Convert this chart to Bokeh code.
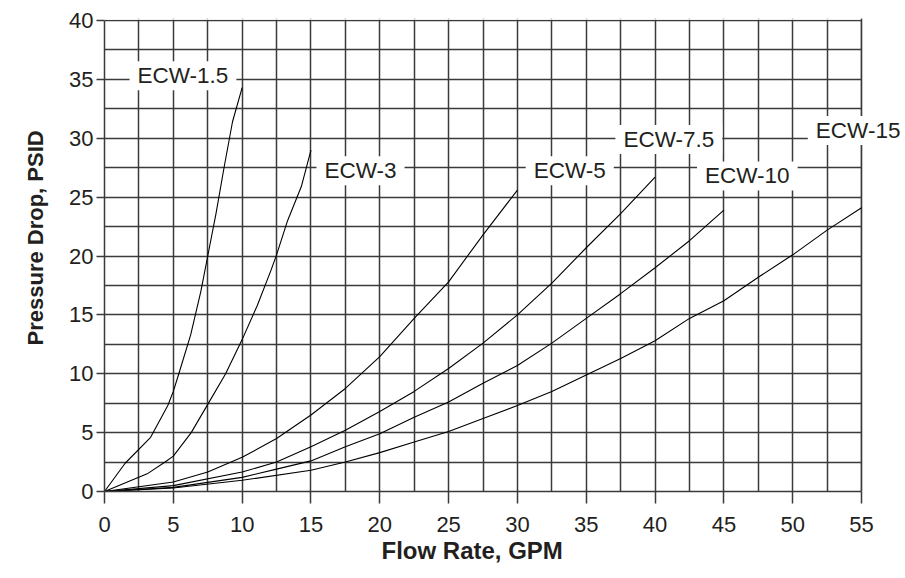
from bokeh.plotting import figure
from bokeh.models import Range1d, FixedTicker, Label, BoxAnnotation, Span, Title
from bokeh.embed import file_html
from bokeh.resources import INLINE

# ---- data ----
ecw15_x = [0, 1.5, 3.35, 4.6, 5.0, 5.4, 6.26, 7.0, 7.5, 8.1, 8.7, 9.3, 10.0]
ecw15_y = [0, 2.4, 4.6, 7.3, 8.5, 10.0, 13.3, 17.0, 20.0, 23.6, 27.6, 31.4, 34.3]

ecw3_x = [0, 3.1, 4.4, 5.0, 6.3, 7.5, 8.8, 10.0, 11.1, 12.1, 12.5, 13.3, 14.3, 15.0]
ecw3_y = [0, 1.5, 2.5, 3.0, 5.0, 7.4, 10.0, 12.9, 15.8, 18.8, 20.1, 23.0, 25.9, 29.0]

ecw5_x = [0, 5, 7.5, 10, 12.5, 15, 17.5, 20, 22.5, 25, 27.5, 30]
ecw5_y = [0, 0.8, 1.65, 2.9, 4.5, 6.5, 8.75, 11.45, 14.7, 17.8, 21.8, 25.6]

ecw75_x = [0, 5, 10, 12.5, 15, 17.5, 20, 22.5, 25, 27.5, 30, 32.5, 35, 37.5, 40]
ecw75_y = [0, 0.5, 1.65, 2.5, 3.8, 5.2, 6.8, 8.5, 10.45, 12.6, 15.0, 17.7, 20.7, 23.6, 26.7]

ecw10_x = [0, 5, 10, 12.5, 15, 17.5, 20, 22.5, 25, 27.5, 30, 32.5, 35, 37.5, 40, 42.5, 45]
ecw10_y = [0, 0.35, 1.2, 1.9, 2.6, 3.8, 4.9, 6.3, 7.6, 9.2, 10.7, 12.6, 14.7, 16.8, 19.0, 21.3, 23.9]

ecw15b_x = [0, 5, 10, 15, 17.5, 20, 22.5, 25, 27.5, 30, 32.5, 35, 37.5, 40, 42.5, 45, 47.5, 50, 52.5, 55]
ecw15b_y = [0, 0.3, 0.95, 1.8, 2.5, 3.3, 4.2, 5.1, 6.2, 7.3, 8.5, 9.9, 11.3, 12.8, 14.7, 16.2, 18.2, 20.1, 22.2, 24.1]

series_names = ["ECW-1.5", "ECW-3", "ECW-5", "ECW-7.5", "ECW-10", "ECW-15"]
series_x = [ecw15_x, ecw3_x, ecw5_x, ecw75_x, ecw10_x, ecw15b_x]
series_y = [ecw15_y, ecw3_y, ecw5_y, ecw75_y, ecw10_y, ecw15b_y]

# label anchor positions (data units)
label_x = [5.7, 18.6, 33.8, 41.0, 46.7, 54.75]
label_y = [35.3, 27.25, 27.25, 29.9, 26.8, 30.65]

x_ticks = [0, 5, 10, 15, 20, 25, 30, 35, 40, 45, 50, 55]
y_ticks = [0, 5, 10, 15, 20, 25, 30, 35, 40]
x_grid = [0, 2.5, 5, 7.5, 10, 12.5, 15, 17.5, 20, 22.5, 25, 27.5, 30, 32.5,
          35, 37.5, 40, 42.5, 45, 47.5, 50, 52.5, 55]
y_grid = [0, 2.5, 5, 7.5, 10, 12.5, 15, 17.5, 20, 22.5, 25, 27.5, 30, 32.5,
          35, 37.5, 40]
x_max = 55
y_max = 40
x_title = "Flow Rate, GPM"
y_title = "Pressure Drop, PSID"

FONT = "Liberation Sans"
GRID = "#3a3a3a"
TXT = "#231f20"

# frame is a bit larger than the data area so the ECW-15 label is not clipped
p = figure(frame_width=796, frame_height=473,
           x_range=Range1d(0, 57.83), y_range=Range1d(0, 40.17),
           output_backend="svg", toolbar_location=None,
           min_border_left=104, min_border_top=18,
           min_border_right=0, min_border_bottom=80)
p.background_fill_color = "white"
p.border_fill_color = "white"
p.outline_line_color = None

p.xgrid.ticker = FixedTicker(ticks=x_grid)
p.ygrid.ticker = FixedTicker(ticks=y_grid)
for g in (p.xgrid, p.ygrid):
    g.grid_line_color = GRID
    g.grid_line_width = 1.5
    g.grid_line_alpha = 1.0

# blank out the spare strips outside the data area, then redraw the right edge
p.add_layout(BoxAnnotation(left=x_max, fill_color="white", fill_alpha=1.0,
                           line_color=None, level="underlay"))
p.add_layout(BoxAnnotation(bottom=y_max + 0.07, fill_color="white", fill_alpha=1.0,
                           line_color=None, level="underlay"))
p.add_layout(Span(location=x_max, dimension="height", line_color=GRID,
                  line_width=1.5, level="underlay"))

p.xaxis.ticker = FixedTicker(ticks=x_ticks)
p.yaxis.ticker = FixedTicker(ticks=y_ticks)
p.xaxis.bounds = (0, x_max)
p.yaxis.bounds = (0, y_max)
for ax in (p.xaxis, p.yaxis):
    ax.axis_line_color = GRID
    ax.axis_line_width = 1.5
    ax.major_tick_line_color = GRID
    ax.major_tick_line_width = 1.5
    ax.major_tick_in = 0
    ax.minor_tick_line_color = None
    ax.major_label_text_font = FONT
    ax.major_label_text_font_size = "22px"
    ax.major_label_text_color = TXT

p.xaxis.major_tick_out = 12
p.yaxis.major_tick_out = 8
p.xaxis.major_label_standoff = 13
p.yaxis.major_label_standoff = 3

# axis titles as side titles, placed over the data area
p.add_layout(Title(text=x_title, align="left", offset=277, standoff=0,
                   text_font=FONT, text_font_size="24px", text_font_style="bold",
                   text_color=TXT), "below")
p.add_layout(Title(text=y_title, align="left", offset=146, standoff=38,
                   text_font=FONT, text_font_size="22px", text_font_style="bold",
                   text_color=TXT), "left")

for xs, ys in zip(series_x, series_y):
    p.line(xs, ys, line_color="black", line_width=1.1)

for name, lx, ly in zip(series_names, label_x, label_y):
    p.add_layout(Label(x=lx, y=ly, text=name, text_align="center",
                       text_baseline="middle", text_font=FONT,
                       text_font_size="22.5px", text_color=TXT,
                       background_fill_color="white", padding=(8, 2)))

open("out.html", "w").write(file_html(p, INLINE))
